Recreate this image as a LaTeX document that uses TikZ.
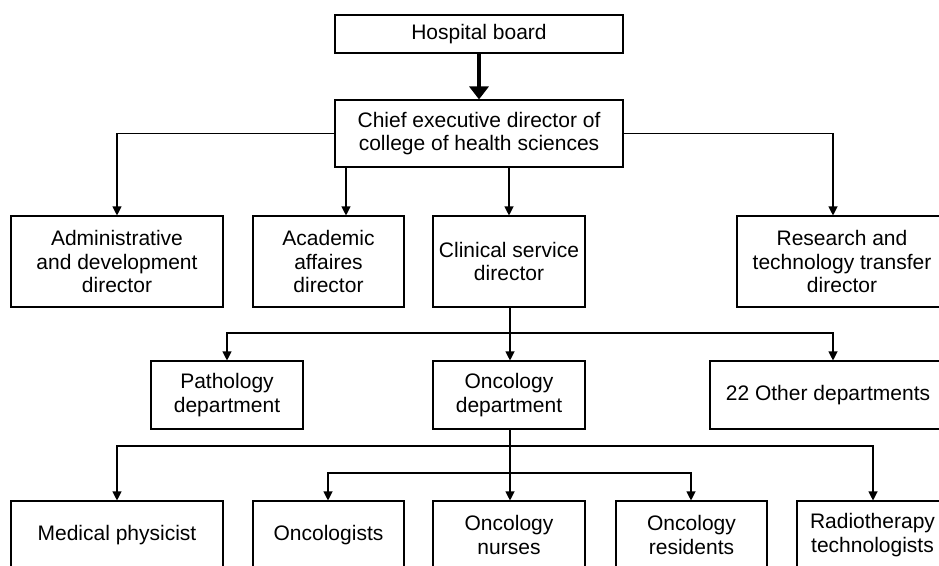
\documentclass[tikz,border=0pt]{standalone}
\usepackage{fontspec}
\setmainfont{Liberation Sans}
\usetikzlibrary{arrows.meta}
\begin{document}
\begin{tikzpicture}[x=1pt,y=-1pt,
  box/.style={draw,line width=1.1pt,inner sep=0pt,align=center,
    font=\fontsize{21}{23.5}\selectfont},
  conn/.style={line width=1.1pt},
  arr/.style={line width=1.1pt,-{Triangle[width=9pt,length=9pt]}},
  bigarr/.style={line width=4pt,-{Triangle[width=19pt,length=13pt]}}]
\clip (0,0) rectangle (939,565);
\fill[white] (0,0) rectangle (939,565);
% level 0/1
\node[box,minimum width=288pt,minimum height=38pt] (hb) at (479,34) {Hospital board};
\node[box,minimum width=288pt,minimum height=67pt] (ced) at (479,133.5) {Chief executive director of\\college of health sciences};
% level 2
\node[box,minimum width=212pt,minimum height=91pt] (adm) at (117,261.5) {Administrative\\and development\\director};
\node[box,minimum width=151pt,minimum height=91pt] (aca) at (328.5,261.5) {Academic\\affaires\\director};
\node[box,minimum width=152pt,minimum height=91pt] (cli) at (509,261.5) {Clinical service\\director};
\node[box,minimum width=210pt,minimum height=91pt] (res) at (842,261.5) {Research and\\technology transfer\\director};
% level 3
\node[box,minimum width=152pt,minimum height=68pt] (pat) at (227,395) {Pathology\\department};
\node[box,minimum width=152pt,minimum height=68pt] (onc) at (509,395) {Oncology\\department};
\node[box,minimum width=236pt,minimum height=68pt] (oth) at (828,395) {22 Other departments};
% level 4
\node[box,minimum width=212pt,minimum height=68pt] (med) at (117,535) {Medical physicist};
\node[box,minimum width=151pt,minimum height=68pt] (ogs) at (328.5,535) {Oncologists};
\node[box,minimum width=152pt,minimum height=68pt] (nur) at (509,535) {Oncology\\nurses};
\node[box,minimum width=151pt,minimum height=68pt] (rsd) at (691.5,535) {Oncology\\residents};
\node[box,minimum width=151pt,minimum height=68pt] (rad) at (872.5,535) {Radiotherapy\\technologists};
% column coordinates
\coordinate (xadm) at (117,0);
\coordinate (xaca) at (346,0);
\coordinate (xmid) at (510,0);
\coordinate (xres) at (833,0);
\coordinate (xpat) at (227,0);
\coordinate (xogs) at (328,0);
\coordinate (xrsd) at (691,0);
\coordinate (xrad) at (873,0);
\coordinate (r3) at (0,333);
\coordinate (r4a) at (0,446);
\coordinate (r4b) at (0,473);
% connectors
\draw[bigarr] (hb) -- (ced);
\draw[arr] (ced.west) -| (adm.north -| xadm);
\draw[arr] (ced.east) -| (res.north -| xres);
\draw[arr] (ced.south -| xaca) -- (aca.north -| xaca);
\draw[arr] (cli.north |- ced.south) -- (cli.north);
\draw[arr] (cli.south -| xmid) -- (onc.north -| xmid);
\draw[arr] (r3 -| xmid) -| (pat.north -| xpat);
\draw[arr] (r3 -| xmid) -| (oth.north -| xres);
\draw[arr] (onc.south -| xmid) -- (nur.north -| xmid);
\draw[arr] (r4a -| xmid) -| (med.north -| xadm);
\draw[arr] (r4a -| xmid) -| (rad.north -| xrad);
\draw[arr] (r4b -| xmid) -| (ogs.north -| xogs);
\draw[arr] (r4b -| xmid) -| (rsd.north -| xrsd);
\end{tikzpicture}
\end{document}
